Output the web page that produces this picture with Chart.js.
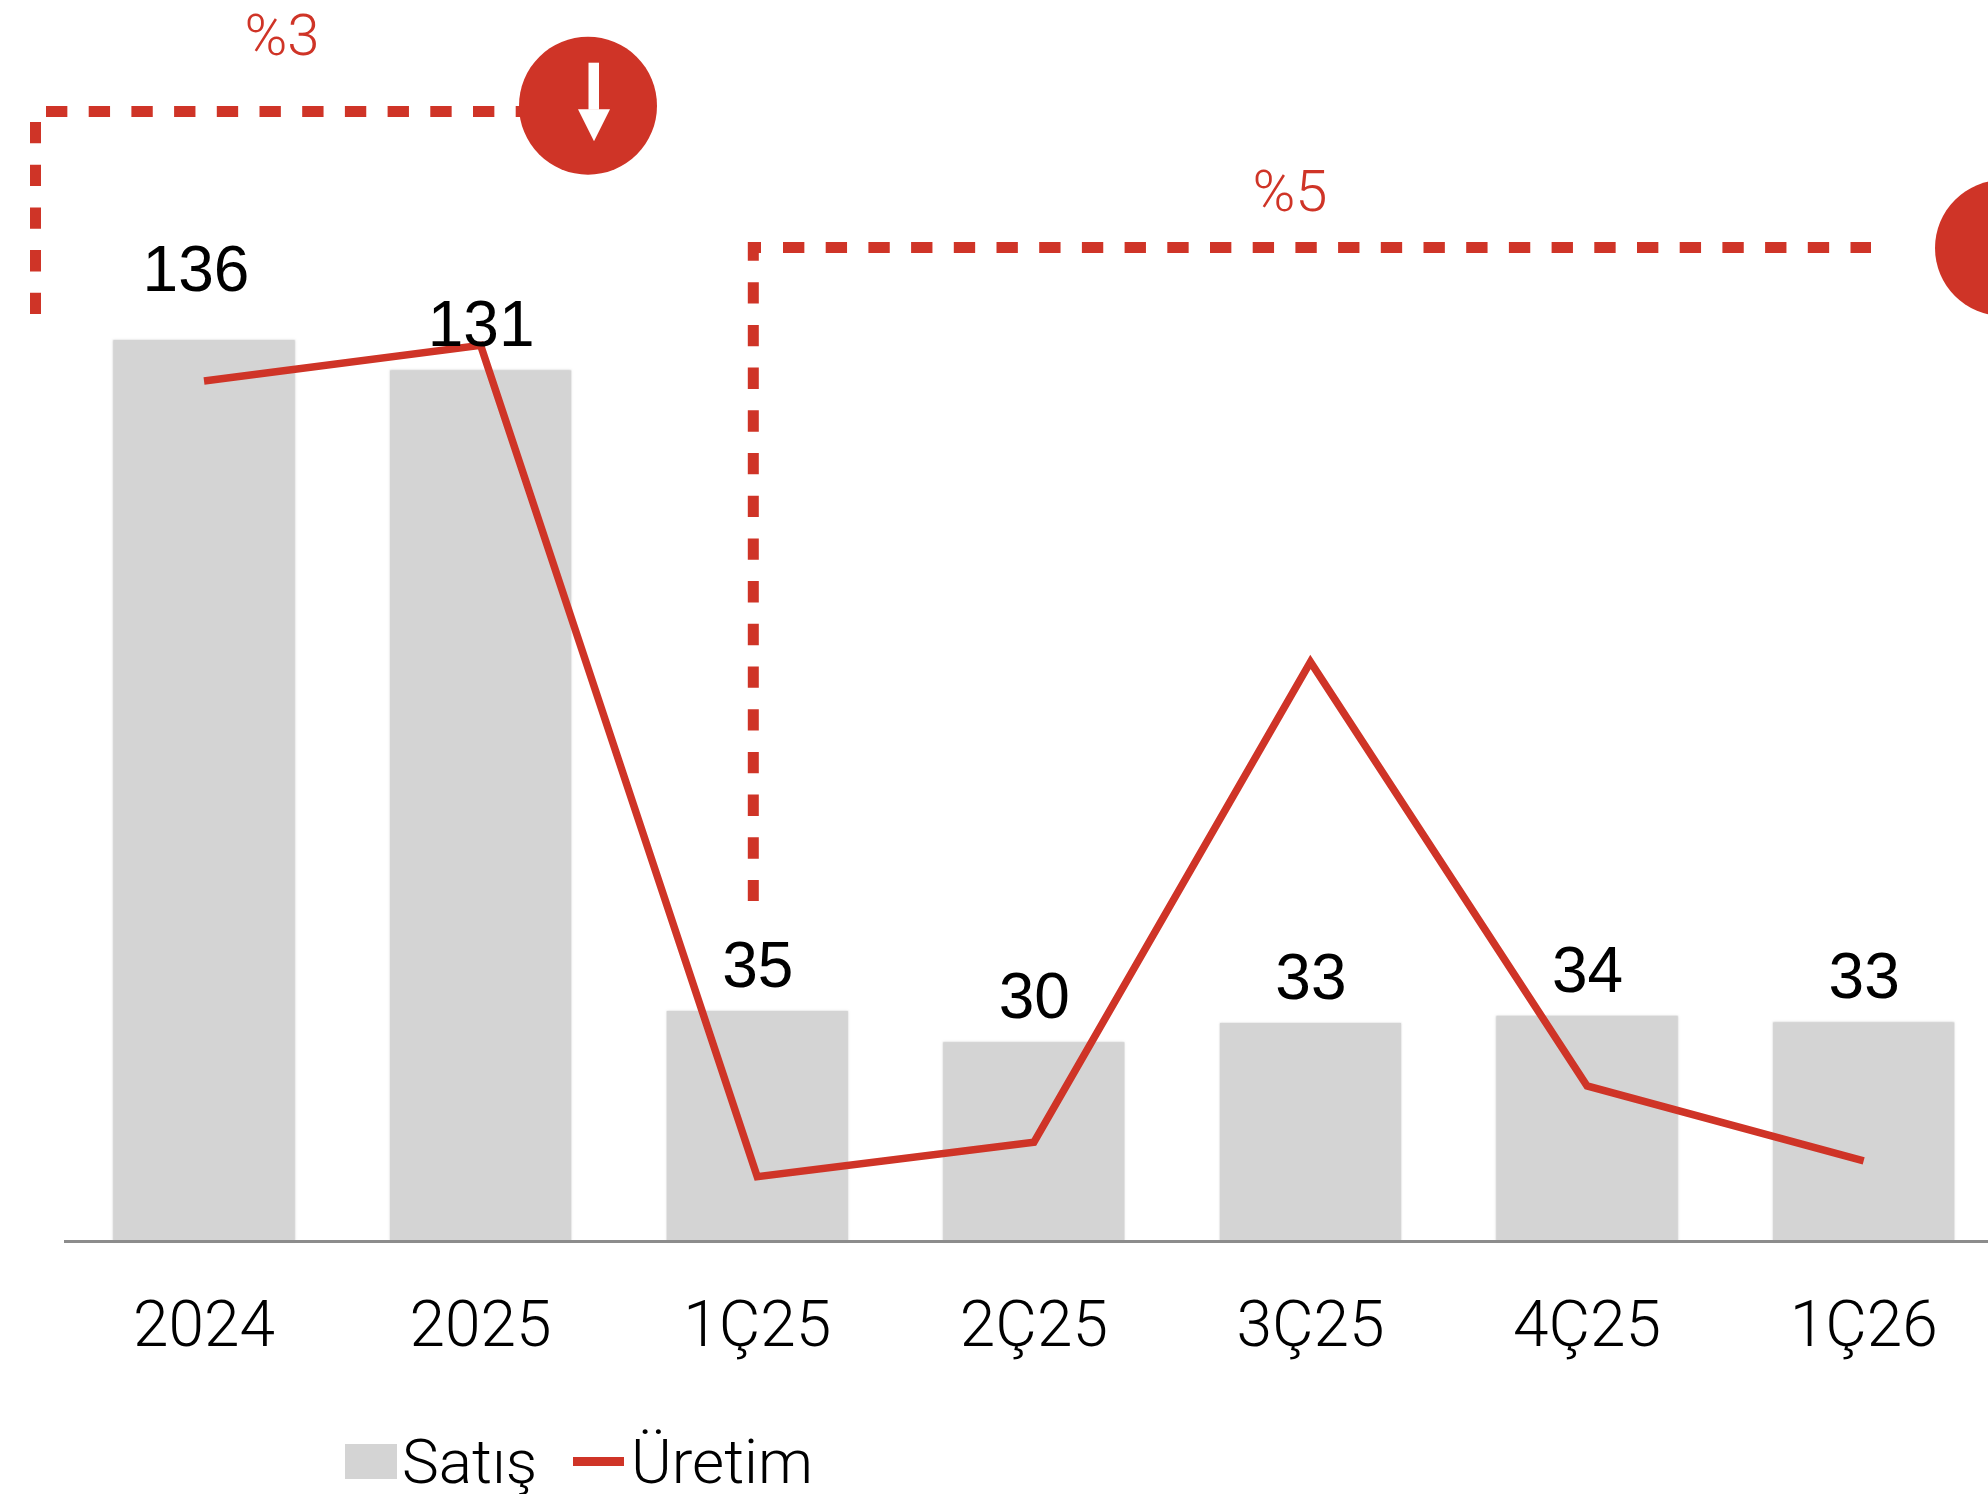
<!DOCTYPE html>
<html>
<head>
<meta charset="utf-8">
<style>html,body{margin:0;padding:0;background:#fff;overflow:hidden;width:1988px;height:1494px}canvas{display:block}</style>
<script src="https://cdn.jsdelivr.net/npm/chart.js@4"></script>
</head>
<body>
<canvas id="c" width="2010" height="1494"></canvas>
<script>
const categories = ["2024","2025","1Ç25","2Ç25","3Ç25","4Ç25","1Ç26"];
const satis = [136,131.4,34.7,30,32.9,34,33];
const uretim = [129.8,135.2,9.7,14.9,87.4,23.4,12.1];
const satisLabels = ["136","131","35","30","33","34","33"];
const RED = "#cf3427", GREY = "#d4d4d4";

const barSoftEdge = {
  id:"barSoftEdge",
  beforeDatasetDraw(chart,args){ if(args.index===1){const c=chart.ctx;c.save();c.shadowColor="rgba(170,170,170,.6)";c.shadowBlur=2;} },
  afterDatasetDraw(chart,args){ if(args.index===1){chart.ctx.restore();} }
};
const valueLabels = {
  id:"valueLabels",
  afterDatasetsDraw(chart){
    const c=chart.ctx, meta=chart.getDatasetMeta(1);
    c.save();c.font="400 64px 'Liberation Sans', sans-serif";c.fillStyle="#000";c.textAlign="center";c.textBaseline="alphabetic";
    meta.data.forEach((b,i)=>{
      const dx = i===0 ? -8 : 0.5, gap = i===0 ? 49 : 24;
      c.fillText(satisLabels[i], b.x+dx, b.y-gap);
    });
    c.restore();
  }
};
const annotations = {
  id:"annotations",
  afterDraw(chart){
    const c=chart.ctx; c.save();
    const dash=(x1,y1,x2,y2,offset)=>{c.beginPath();c.setLineDash([21.35,21.35]);c.lineDashOffset=offset||0;c.lineWidth=11;c.strokeStyle=RED;c.moveTo(x1,y1);c.lineTo(x2,y2);c.stroke();};
    dash(46,111.5,522,111.5);
    dash(35.5,122,35.5,314);
    dash(783,247.5,1871,247.5);
    dash(753.3,242,753.3,901,2.5);
    c.setLineDash([]);
    c.fillStyle=RED;c.fillRect(748,242,13,11);
    const badge=(cx,cy,r)=>{
      c.fillStyle=RED;c.beginPath();c.arc(cx,cy,r,0,Math.PI*2);c.fill();
      c.fillStyle="#fff";
      c.fillRect(cx+0.5,cy-43,10.5,47);
      c.beginPath();c.moveTo(cx-10,cy+3.5);c.lineTo(cx+22,cy+3.5);c.lineTo(cx+6,cy+35.5);c.closePath();c.fill();
    };
    badge(588,105.7,69);
    badge(2003,248,68);
    c.fillStyle=RED;c.font="300 58px Roboto, 'Liberation Sans', sans-serif";c.textAlign="center";c.textBaseline="alphabetic";
    c.fillText("%3",282,55);
    c.fillText("%5",1290,211);
    // legend
    c.fillStyle=GREY;c.fillRect(345,1444,52,35);
    c.fillStyle=RED;c.fillRect(573,1457,51,9);
    c.fillStyle="#000";c.font="300 62px Roboto, 'Liberation Sans', sans-serif";c.textAlign="left";
    c.fillText("Satış",402,1483);
    c.fillText("Üretim",631,1483);
    c.restore();
  }
};

new Chart(document.getElementById("c"),{
  data:{
    labels:categories,
    datasets:[
      {type:"line",label:"Üretim",data:uretim,borderColor:RED,backgroundColor:RED,borderWidth:7.5,pointRadius:0,tension:0,borderJoinStyle:"miter",borderCapStyle:"butt",order:1},
      {type:"bar",label:"Satış",data:satis,backgroundColor:GREY,borderWidth:0,categoryPercentage:1,barPercentage:0.655,clip:false,order:2}
    ]
  },
  options:{
    responsive:false,animation:false,
    layout:{padding:{left:65.7,right:8,top:48.5,bottom:0}},
    plugins:{legend:{display:false},tooltip:{enabled:false},title:{display:false}},
    scales:{
      x:{
        grid:{display:false,drawTicks:false},
        border:{display:true,color:"#8c8c8c",width:3,z:1},
        ticks:{color:"#000",font:{family:"Roboto, 'Liberation Sans', sans-serif",size:64,weight:"300"},padding:51,maxRotation:0,autoSkip:false},
        afterFit(s){s.height=253;}
      },
      y:{display:false,min:0,max:180}
    }
  },
  plugins:[barSoftEdge,valueLabels,annotations]
});
</script>
</body>
</html>
